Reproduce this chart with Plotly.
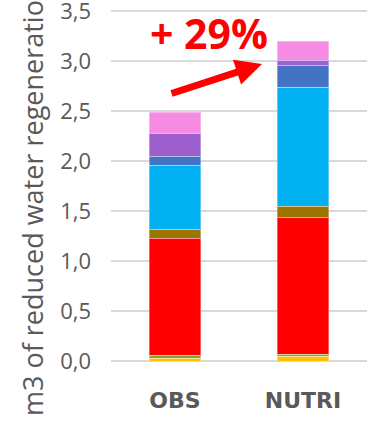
import plotly.graph_objects as go

# Categories and stacked components (m3), bottom to top
categories = ["OBS", "NUTRI"]
component_names = ["C1", "C2", "C3", "C4", "C5", "C6", "C7", "C8"]
obs_values = [0.03, 0.03, 1.17, 0.09, 0.64, 0.09, 0.23, 0.21]
nutri_values = [0.05, 0.02, 1.37, 0.11, 1.19, 0.22, 0.05, 0.19]
component_colors = ["#FFC000", "#7FA43A", "#FF0000", "#9C7400",
                    "#00B0F0", "#4472C4", "#9E5ECE", "#F58BE3"]

y_tick_vals = [0.0, 0.5, 1.0, 1.5, 2.0, 2.5, 3.0, 3.5]
y_tick_text = ["0,0", "0,5", "1,0", "1,5", "2,0", "2,5", "3,0", "3,5"]

increase_label = "+ 29%"
y_title = "m3 of reduced water regeneration"

fig = go.Figure()
for i, name in enumerate(component_names):
    fig.add_trace(go.Bar(
        x=categories,
        y=[obs_values[i], nutri_values[i]],
        name=name,
        marker=dict(color=component_colors[i],
                    line=dict(color="rgba(255,255,255,0.35)", width=1)),
        hoverinfo="skip",
    ))

W, H = 385, 427
L, R, T, B = 111, 18, 8, 66
pw, ph = W - L - R, H - T - B
y_top = 3.53  # a little above 3.5 so the top gridline and label are kept


def px_to_paper(xp, yp):
    return (xp - L) / pw, (H - B - yp) / ph


tip_x, tip_y = px_to_paper(262, 64)
title_x, title_y = px_to_paper(32, 418)
lab_x, lab_y = px_to_paper(209, 33)

fig.update_layout(
    width=W, height=H,
    margin=dict(l=L, r=R, t=T, b=B, pad=0, autoexpand=False),
    barmode="stack",
    bargap=0.6,
    showlegend=False,
    plot_bgcolor="white",
    paper_bgcolor="white",
    xaxis=dict(
        tickfont=dict(family="DejaVu Sans", size=22, color="#595959",
                      weight="bold"),
        showgrid=False, showline=False, ticks="",
        ticklabelstandoff=24,
        automargin=False,
    ),
    yaxis=dict(
        range=[0, y_top],
        tickvals=y_tick_vals, ticktext=y_tick_text,
        tickfont=dict(family="Open Sans", size=22, color="#595959"),
        showgrid=True, gridcolor="#D9D9D9", gridwidth=2,
        zeroline=True, zerolinecolor="#D9D9D9", zerolinewidth=2,
        showline=False, ticks="",
        ticklabelstandoff=19,
        ticklabeloverflow="allow",
        automargin=False,
    ),
    annotations=[
        dict(text=y_title, textangle=-90, xref="paper", yref="paper",
             x=title_x, y=title_y, xanchor="center", yanchor="bottom",
             showarrow=False,
             font=dict(family="Open Sans", size=27, color="#595959")),
        dict(text="<b>" + increase_label + "</b>", xref="paper", yref="paper",
             x=lab_x, y=lab_y, xanchor="center", yanchor="middle",
             showarrow=False,
             font=dict(family="Open Sans", size=41, color="#FF0000")),
        dict(text="", xref="paper", yref="paper", x=tip_x, y=tip_y,
             ax=-92, ay=30, showarrow=True, arrowhead=2, arrowsize=0.75,
             arrowwidth=7, arrowcolor="#FF0000", standoff=0),
    ],
)

fig.write_html("out.html")
